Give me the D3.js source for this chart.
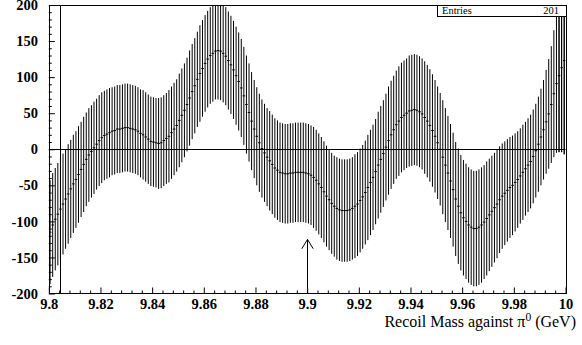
<!DOCTYPE html>
<html><head><meta charset="utf-8">
<script src="https://cdn.jsdelivr.net/npm/d3@7"></script>
<style>
html,body{margin:0;padding:0;background:#fff;}
svg{display:block;}
svg text{font-family:"Liberation Serif",serif;}
</style></head>
<body>
<script>
// ---- data ----
const binLow = 9.8, binWidth = 0.001;
const values = [
-115,-105,-97,-90,-83,-76,-69,-62,-55,-48,
-42,-35,-28,-21,-14,-8,-3,2,7,12,
16,19,21,23,25,26,28,28,29,30,
30,29,28,27,25,22,20,17,14,11,
10,9,8,9,12,15,18,23,28,33,
40,47,54,62,71,80,88,97,105,112,
119,125,130,133,136,137,136,133,129,123,
117,110,102,94,85,74,62,51,39,28,
18,9,1,-5,-11,-16,-21,-26,-29,-32,
-33,-34,-34,-33,-33,-32,-32,-32,-32,-33,
-34,-36,-39,-43,-48,-53,-59,-65,-70,-75,
-79,-82,-84,-85,-85,-85,-84,-82,-79,-76,
-71,-66,-60,-53,-46,-39,-31,-22,-14,-6,
3,12,20,27,34,39,44,47,50,53,
54,55,54,52,49,44,39,33,26,18,
9,0,-11,-22,-33,-44,-56,-69,-79,-88,
-95,-100,-105,-108,-110,-110,-108,-105,-101,-96,
-91,-86,-81,-76,-70,-65,-61,-57,-53,-50,
-46,-42,-37,-32,-27,-22,-17,-10,-2,7,
17,27,38,49,62,77,91,102,113,123
];
const errors = [
72,72,71,71,70,70,69,69,68,68,
67,67,66,66,65,65,64,64,63,63,
63,62,62,62,61,61,61,61,61,61,
61,61,61,61,61,61,62,62,62,62,
62,62,63,63,63,63,64,64,64,64,
65,65,65,65,66,66,66,66,67,67,
67,67,67,67,67,68,68,68,68,68,
68,68,68,68,68,68,68,68,68,68,
68,68,68,68,68,69,69,69,69,69,
69,69,69,69,69,69,69,69,69,69,
69,69,70,70,70,70,70,70,70,70,
70,71,71,71,71,71,71,71,72,72,
72,72,72,73,73,73,73,74,74,74,
74,75,75,75,75,76,76,76,76,77,
77,77,77,77,77,78,78,78,78,78,
78,78,79,79,79,79,79,79,80,80,
80,80,80,80,80,80,80,80,79,79,
78,77,76,75,74,73,72,71,70,69,
68,67,66,66,65,65,65,65,65,66,
67,69,72,76,81,88,96,106,117,130
];
const xMajorTicks = [9.8, 9.82, 9.84, 9.86, 9.88, 9.9, 9.92, 9.94, 9.96, 9.98, 10];
const xTickLabels = ["9.8","9.82","9.84","9.86","9.88","9.9","9.92","9.94","9.96","9.98","10"];
const yMajorTicks = [-200,-150,-100,-50,0,50,100,150,200];
const yTickLabels = ["-200","-150","-100","-50","0","50","100","150","200"];
const xMinorStep = 0.004, yMinorStep = 10;
const markerLineX = 9.8045;
const arrowX = 9.9, arrowFrom = -200, arrowTo = -125;
const entries = 201;
const xTitle = "Recoil Mass against π";

// ---- layout ----
const W = 582, H = 345;
const L = 48.8, R = 565.5, T = 5, B = 293.5;
const svg = d3.select("body").append("svg").attr("width", W).attr("height", H);
const x = d3.scaleLinear().domain([9.8, 10]).range([L, R]);
const y = d3.scaleLinear().domain([-200, 200]).range([B, T]);
const serif = '"Liberation Serif",serif';

const xMinor = d3.range(0, 51).map(i => +(9.8 + i * xMinorStep).toFixed(4)).filter(v => !xMajorTicks.some(m => Math.abs(m - v) < 1e-6));
const yMinor = d3.range(-200, 201, yMinorStep).filter(v => v % 50 !== 0);

svg.append("defs").append("clipPath").attr("id", "clip")
  .append("rect").attr("x", L).attr("y", T).attr("width", R - L).attr("height", B - T);

// bars
const g = svg.append("g").attr("clip-path", "url(#clip)");
const bins = values.map((v, i) => ({c: binLow + binWidth * (i + 0.5), lo: binLow + binWidth * i, hi: binLow + binWidth * (i + 1), v, e: errors[i]}));
g.selectAll("line.err").data(bins).enter().append("line").attr("class", "err")
  .attr("x1", d => x(d.c)).attr("x2", d => x(d.c))
  .attr("y1", d => y(d.v - d.e)).attr("y2", d => y(d.v + d.e))
  .attr("stroke", "#000").attr("stroke-width", 1);
g.selectAll("line.cen").data(bins).enter().append("line").attr("class", "cen")
  .attr("x1", d => x(d.lo)).attr("x2", d => x(d.hi))
  .attr("y1", d => y(d.v)).attr("y2", d => y(d.v))
  .attr("stroke", "#000").attr("stroke-width", 1);

// zero line and marker line
svg.append("line").attr("x1", L).attr("x2", R).attr("y1", Math.round(y(0)) + 0.5).attr("y2", Math.round(y(0)) + 0.5)
  .attr("stroke", "#000").attr("stroke-width", 1);
svg.append("line").attr("x1", Math.round(x(markerLineX)) + 0.5).attr("x2", Math.round(x(markerLineX)) + 0.5)
  .attr("y1", T).attr("y2", B).attr("stroke", "#000").attr("stroke-width", 1);

// arrow
const ax = Math.round(x(arrowX)) + 0.5, ay0 = y(arrowFrom), ay1 = y(arrowTo);
svg.append("line").attr("x1", ax).attr("x2", ax).attr("y1", ay0).attr("y2", ay1).attr("stroke", "#000");
svg.append("path").attr("d", `M${ax - 5.7},${ay1 + 9.3}L${ax},${ay1}L${ax + 5.7},${ay1 + 9.3}`)
  .attr("fill", "none").attr("stroke", "#000");

// axes
function styleAxis(sel) {
  sel.attr("font-family", serif);
  sel.select(".domain").remove();
  sel.selectAll(".tick line").attr("stroke", "#000");
  sel.selectAll("text").style("font-family", serif).attr("font-weight", "bold").attr("font-size", "14.5px").attr("fill", "#000");
}
svg.append("g").attr("transform", `translate(0,${B})`)
  .call(d3.axisBottom(x).tickValues(xMajorTicks).tickSize(-6).tickPadding(5.5)
    .tickFormat((d, i) => xTickLabels[i]))
  .call(styleAxis);
svg.append("g").attr("transform", `translate(0,${B})`)
  .call(d3.axisBottom(x).tickValues(xMinor).tickSize(-3).tickFormat(""))
  .call(styleAxis);
svg.append("g").attr("transform", `translate(${L},0)`)
  .call(d3.axisLeft(y).tickValues(yMajorTicks).tickSize(-6).tickPadding(10.8)
    .tickFormat((d, i) => yTickLabels[i]))
  .call(styleAxis);
svg.append("g").attr("transform", `translate(${L},0)`)
  .call(d3.axisLeft(y).tickValues(yMinor).tickSize(-3).tickFormat(""))
  .call(styleAxis);

// frame
svg.append("rect").attr("x", Math.round(L) + 0.5).attr("y", T + 0.5).attr("width", Math.round(R) - Math.round(L)).attr("height", B - T - 0.5)
  .attr("fill", "none").attr("stroke", "#000");

// stats box
const bx0 = 437, bx1 = Math.round(R), by0 = T, by1 = 16;
svg.append("rect").attr("x", bx0 + 0.5).attr("y", by0 + 0.5).attr("width", bx1 - bx0).attr("height", by1 - by0)
  .attr("fill", "#fff").attr("stroke", "#000");
svg.append("text").attr("x", bx0 + 5).attr("y", by1 - 2.5).style("font-family", serif).attr("font-size", "10.5px").text("Entries");
svg.append("text").attr("x", bx1 - 7).attr("y", by1 - 2.5).attr("text-anchor", "end").style("font-family", serif).attr("font-size", "10.5px").text(entries);
// bars crossing the stats box at the right end
g.selectAll("line.err2").data(bins.filter(d => x(d.c) > bx1 - 8 && d.v + d.e > 190)).enter().append("line")
  .attr("x1", d => x(d.c)).attr("x2", d => x(d.c)).attr("y1", d => y(d.v - d.e)).attr("y2", d => y(d.v + d.e))
  .attr("stroke", "#000");

// x title
const t = svg.append("text").attr("x", 576).attr("y", 327).attr("text-anchor", "end")
  .style("font-family", serif).attr("font-size", "16px").attr("fill", "#000");
t.append("tspan").text(xTitle);
t.append("tspan").attr("dy", -6).attr("font-size", "11.5px").text("0");
t.append("tspan").attr("dy", 6).text(" (GeV)");
</script>
</body></html>
